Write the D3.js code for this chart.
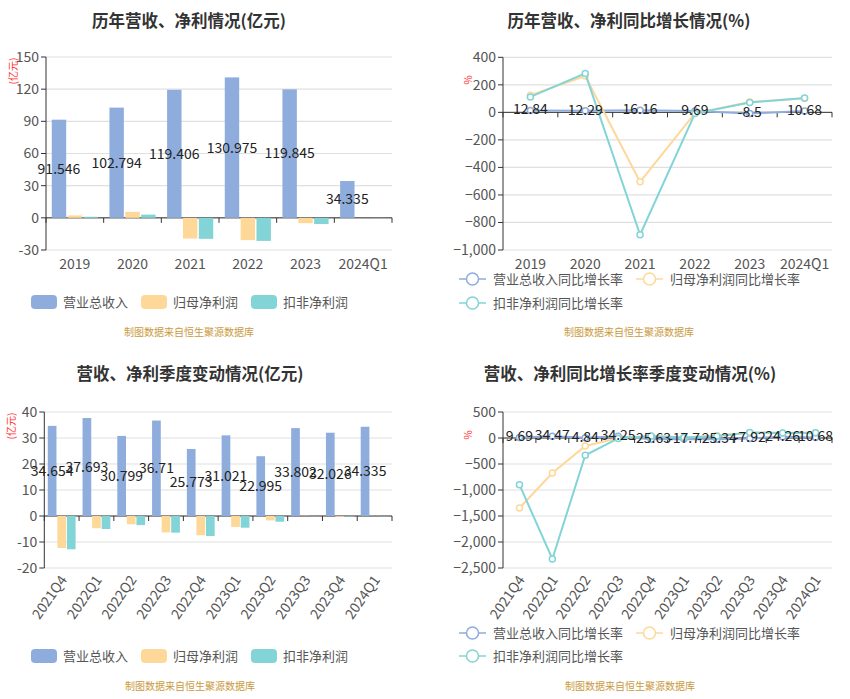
<!DOCTYPE html>
<meta charset="utf-8">
<style>
body{ margin:0; background:#fff; font-family:"Noto Sans CJK SC","Noto Sans",sans-serif; }
svg text{ font-family:"Noto Sans CJK SC","Noto Sans",sans-serif; }
</style>
<body>
<div id="chart"></div>
<script src="https://cdn.jsdelivr.net/npm/d3@7"></script>
<script>
// annual
var years = ['2019', '2020', '2021', '2022', '2023', '2024Q1']
var revenue = [91.546, 102.794, 119.406, 130.975, 119.845, 34.335]
var netProfit = [2.2, 5.6, -19.3, -20.8, -5.0, 0.05]
var deductedProfit = [1.0, 3.0, -19.6, -21.5, -5.8, -0.1]
var revenueYoY = [12.84, 12.29, 16.16, 9.69, -8.5, 10.68]
var netYoY = [125, 264, -505, -6, 76, 101]
var deductedYoY = [112, 283, -889, -9, 72, 104]

// quarterly
var quarters = ['2021Q4', '2022Q1', '2022Q2', '2022Q3', '2022Q4', '2023Q1', '2023Q2', '2023Q3', '2023Q4', '2024Q1']
var qRevenue = [34.654, 37.693, 30.799, 36.71, 25.773, 31.021, 22.995, 33.802, 32.026, 34.335]
var qNet = [-12.3, -4.7, -3.2, -6.3, -7.4, -4.2, -1.7, 0.1, -0.3, 0.05]
var qDeducted = [-12.8, -5.0, -3.5, -6.4, -7.7, -4.5, -2.2, -0.1, -0.2, -0.1]
var qRevenueYoY = [9.69, 34.47, 4.84, 34.25, -25.63, -17.7, -25.34, -7.92, 24.26, 10.68]
var qNetYoY = [-1346, -673, -154, -5, 40, 11, 47, 102, 96, 101]
var qDeductedYoY = [-897, -2327, -333, -8, 40, 10, 36, 108, 97, 101]

var barNames = ['营业总收入', '归母净利润', '扣非净利润']
var lineNames = ['营业总收入同比增长率', '归母净利润同比增长率', '扣非净利润同比增长率']
var colors = ['#8eaddc', '#fed898', '#82d4d6']
var source = '制图数据来自恒生聚源数据库'

var svg = d3.select('#chart').append('svg')
    .attr('width', 850).attr('height', 699)

function frame(g, o){
  g.append('text')
      .attr('x', o.titleX).attr('y', o.titleY)
      .attr('text-anchor', 'middle')
      .style('font-size', '16.5px').style('font-weight', 'bold').style('fill', '#333')
      .text(o.title)

  g.append('text')
      .attr('x', o.titleX).attr('y', o.sourceY)
      .attr('text-anchor', 'middle')
      .style('font-size', '10px').style('fill', '#c99a3e')
      .text(source)

  g.append('text')
      .attr('transform', 'translate(' + o.unitX + ',' + o.unitY + ') rotate(-90)')
      .attr('text-anchor', 'middle').attr('dy', '0.35em')
      .style('font-size', '10px').style('fill', '#f33')
      .text(o.unit)
}

function axes(g, x, y, ticks, fmt, rotate){
  var x0 = x.range()[0], x1 = x.range()[1]
  var y0 = y.range()[0], y1 = y.range()[1]

  g.append('g').selectAll('line').data(ticks).join('line')
      .attr('x1', x0).attr('x2', x1)
      .attr('y1', d => y(d)).attr('y2', d => y(d))
      .style('stroke', '#e0e0e0').style('stroke-width', 1.2)

  var ya = g.append('g')
  ya.append('line').attr('x1', x0).attr('x2', x0).attr('y1', y0).attr('y2', y1)
      .style('stroke', '#333')
  ya.selectAll('.tk').data(ticks).join('line')
      .attr('x1', x0 - 5).attr('x2', x0)
      .attr('y1', d => y(d)).attr('y2', d => y(d))
      .style('stroke', '#333')
  ya.selectAll('text').data(ticks).join('text')
      .attr('x', x0 - 7).attr('y', d => y(d)).attr('dy', '0.35em')
      .attr('text-anchor', 'end')
      .style('font-size', '14px').style('fill', '#555')
      .text(fmt)

  var xa = g.append('g')
  xa.append('line').attr('x1', x0).attr('x2', x1).attr('y1', y(0)).attr('y2', y(0))
      .style('stroke', '#333')
  var bounds = x.domain().map(d => x(d)).concat([x1])
  xa.selectAll('.tk').data(bounds).join('line')
      .attr('x1', d => d).attr('x2', d => d)
      .attr('y1', y(0)).attr('y2', y(0) + 5)
      .style('stroke', '#333')

  var bw = x.bandwidth()
  if (rotate){
    xa.selectAll('text').data(x.domain()).join('text')
        .attr('transform', d => 'translate(' + (x(d) + bw / 2 + 2) + ',' + (y0 + 9) + ') rotate(-55)')
        .attr('text-anchor', 'end').attr('dy', '0.35em')
        .style('font-size', '14px').style('fill', '#555')
        .text(d => d)
  } else {
    xa.selectAll('text').data(x.domain()).join('text')
        .attr('x', d => x(d) + bw / 2).attr('y', y0 + 19)
        .attr('text-anchor', 'middle')
        .style('font-size', '14px').style('fill', '#555')
        .text(d => d)
  }
}

function barChart(o){
  var g = svg.append('g')
  frame(g, o)
  var x = d3.scaleBand().domain(o.cats).range([o.x0, o.x1])
  var y = d3.scaleLinear().domain(o.domain).range([o.y0, o.y1])
  axes(g, x, y, d3.range(o.domain[0], o.domain[1] + 1, o.step), d => d, o.rotate)

  var bw = x.bandwidth(), w = bw * 0.25, gap = bw * 0.025
  var off = (bw - 3 * w - 2 * gap) / 2
  var series = [o.a, o.b, o.c]
  series.forEach(function(vals, si){
    g.append('g').selectAll('rect').data(vals).join('rect')
        .attr('x', (d, i) => x(o.cats[i]) + off + si * (w + gap))
        .attr('width', w)
        .attr('y', d => y(Math.max(0, d)))
        .attr('height', d => Math.abs(y(d) - y(0)))
        .style('fill', colors[si])
  })

  g.append('g').selectAll('text').data(o.a).join('text')
      .attr('x', (d, i) => x(o.cats[i]) + off + w / 2)
      .attr('y', d => (y(d) + y(0)) / 2).attr('dy', '0.35em')
      .attr('text-anchor', 'middle')
      .style('font-size', '14px').style('fill', '#222')
      .text(d => d)

  var lg = g.append('g')
  barNames.forEach(function(n, i){
    var lx = o.legendX[i]
    lg.append('rect').attr('x', lx).attr('y', o.legendY - 7)
        .attr('width', 26).attr('height', 14).attr('rx', 4)
        .style('fill', colors[i])
    lg.append('text').attr('x', lx + 32).attr('y', o.legendY).attr('dy', '0.35em')
        .style('font-size', '13px').style('fill', '#555')
        .text(n)
  })
}

function lineChart(o){
  var g = svg.append('g')
  frame(g, o)
  var x = d3.scaleBand().domain(o.cats).range([o.x0, o.x1])
  var y = d3.scaleLinear().domain(o.domain).range([o.y0, o.y1])
  axes(g, x, y, d3.range(o.domain[0], o.domain[1] + 1, o.step), d3.format(','), o.rotate)

  var bw = x.bandwidth()
  var cx = (d, i) => x(o.cats[i]) + bw / 2
  var line = d3.line().x(cx).y(d => y(d))
  var series = [o.a, o.b, o.c]
  series.forEach(function(vals, si){
    g.append('path').datum(vals).attr('d', line)
        .style('fill', 'none').style('stroke', colors[si]).style('stroke-width', 2)
    g.append('g').selectAll('circle').data(vals).join('circle')
        .attr('cx', cx).attr('cy', d => y(d)).attr('r', 3)
        .style('fill', '#fff').style('stroke', colors[si]).style('stroke-width', 1.5)
  })

  g.append('g').selectAll('text').data(o.a).join('text')
      .attr('x', cx).attr('y', d => y(d) - 1).attr('dy', '0.35em')
      .attr('text-anchor', 'middle')
      .style('font-size', '14px').style('fill', '#222')
      .text(d => d)

  var lg = g.append('g')
  var pos = [[o.legendX[0], o.legendY[0]], [o.legendX[1], o.legendY[0]], [o.legendX[0], o.legendY[1]]]
  lineNames.forEach(function(n, i){
    var lx = pos[i][0], ly = pos[i][1]
    lg.append('line').attr('x1', lx).attr('x2', lx + 27).attr('y1', ly).attr('y2', ly)
        .style('stroke', colors[i]).style('stroke-width', 1.5)
    lg.append('circle').attr('cx', lx + 13.5).attr('cy', ly).attr('r', 6)
        .style('fill', '#fff').style('stroke', colors[i]).style('stroke-width', 1.5)
    lg.append('text').attr('x', lx + 34).attr('y', ly).attr('dy', '0.35em')
        .style('font-size', '13px').style('fill', '#555')
        .text(n)
  })
}

barChart({
  title: '历年营收、净利情况(亿元)', titleX: 189, titleY: 27, sourceY: 336,
  unit: '(亿元)', unitX: 13, unitY: 71,
  cats: years, a: revenue, b: netProfit, c: deductedProfit,
  x0: 46, x1: 392, y0: 250, y1: 57, domain: [-30, 150], step: 30,
  legendX: [31, 141, 251], legendY: 302
})

lineChart({
  title: '历年营收、净利同比增长情况(%)', titleX: 629, titleY: 27, sourceY: 336,
  unit: '%', unitX: 468, unitY: 80,
  cats: years, a: revenueYoY, b: netYoY, c: deductedYoY,
  x0: 503, x1: 832, y0: 250, y1: 57.3, domain: [-1000, 400], step: 200,
  legendX: [459, 636], legendY: [279, 303]
})

barChart({
  title: '营收、净利季度变动情况(亿元)', titleX: 190, titleY: 380, sourceY: 690,
  unit: '(亿元)', unitX: 11, unitY: 426, rotate: true,
  cats: quarters, a: qRevenue, b: qNet, c: qDeducted,
  x0: 44.3, x1: 392, y0: 568, y1: 412, domain: [-20, 40], step: 10,
  legendX: [31, 141, 251], legendY: 656
})

lineChart({
  title: '营收、净利同比增长率季度变动情况(%)', titleX: 630, titleY: 380, sourceY: 690,
  unit: '%', unitX: 468, unitY: 435, rotate: true,
  cats: quarters, a: qRevenueYoY, b: qNetYoY, c: qDeductedYoY,
  x0: 503, x1: 832, y0: 568, y1: 412, domain: [-2500, 500], step: 500,
  legendX: [459, 636], legendY: [633, 656]
})
</script>
